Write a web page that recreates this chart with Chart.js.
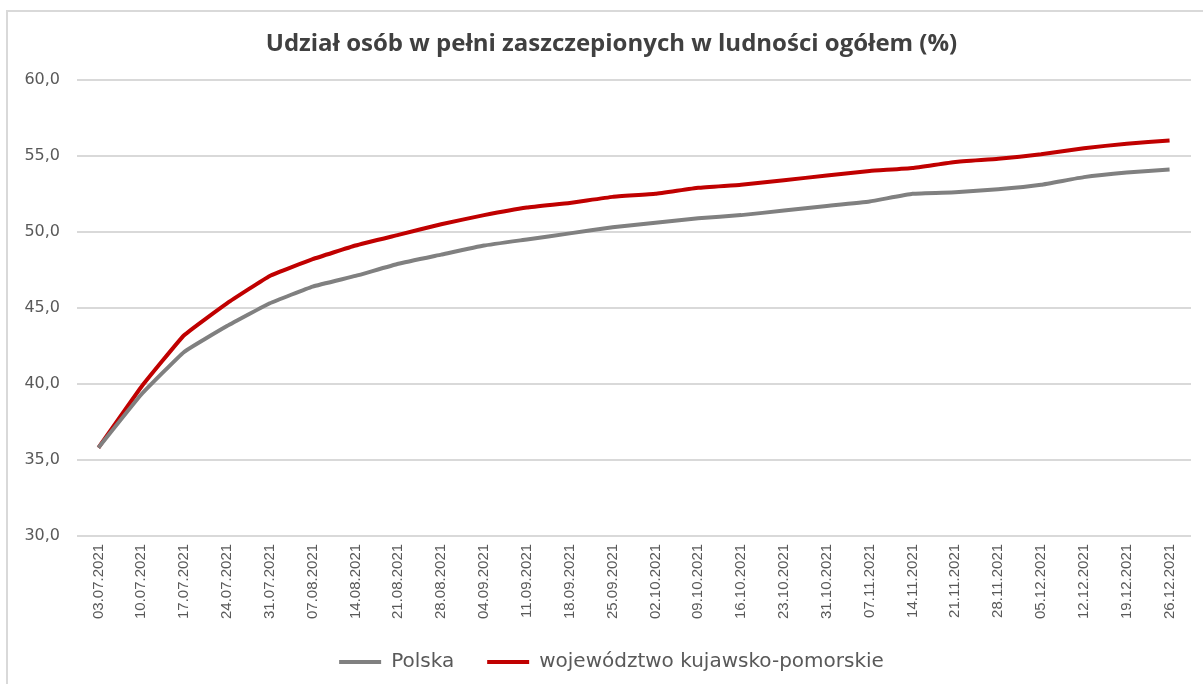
<!DOCTYPE html>
<html lang="pl">
<head>
    <meta charset="UTF-8">
    <title>Udział osób w pełni zaszczepionych</title>
    <script src="https://cdn.jsdelivr.net/npm/chart.js"></script>
    <style>
        html, body { margin: 0; padding: 0; background: #fff; }
        .wrap { position: relative; width: 1203px; height: 684px; }
        .frame { position: absolute; left: 6px; top: 10px; right: 0; bottom: 0; border-top: 2px solid #d9d9d9; border-left: 2px solid #d9d9d9; }
        canvas { position: absolute; left: 0; top: 0; }
    </style>
</head>
<body>
    <div class="wrap">
        <div class="frame"></div>
        <canvas id="chart" width="1203" height="684"></canvas>
    </div>

    <script>
        const dates = ["03.07.2021", "10.07.2021", "17.07.2021", "24.07.2021", "31.07.2021", "07.08.2021",
            "14.08.2021", "21.08.2021", "28.08.2021", "04.09.2021", "11.09.2021", "18.09.2021", "25.09.2021",
            "02.10.2021", "09.10.2021", "16.10.2021", "23.10.2021", "31.10.2021", "07.11.2021", "14.11.2021",
            "21.11.2021", "28.11.2021", "05.12.2021", "12.12.2021", "19.12.2021", "26.12.2021"];

        const polska = [35.8, 39.3, 42.1, 43.8, 45.3, 46.4, 47.1, 47.9, 48.5, 49.1, 49.5, 49.9, 50.3,
            50.6, 50.9, 51.1, 51.4, 51.7, 52.0, 52.5, 52.6, 52.8, 53.1, 53.6, 53.9, 54.1];

        const kujPom = [35.8, 39.8, 43.2, 45.3, 47.1, 48.2, 49.1, 49.8, 50.5, 51.1, 51.6, 51.9, 52.3,
            52.5, 52.9, 53.1, 53.4, 53.7, 54.0, 54.2, 54.6, 54.8, 55.1, 55.5, 55.8, 56.0];

        const yTicks = [30, 35, 40, 45, 50, 55, 60];

        const ctx = document.getElementById('chart').getContext('2d');
        new Chart(ctx, {
            type: 'line',
            data: {
                labels: dates,
                datasets: [
                    { label: 'Polska', data: polska, borderColor: '#808080', backgroundColor: '#808080',
                      borderWidth: 4, pointRadius: 0, tension: 0.1 },
                    { label: 'województwo kujawsko-pomorskie', data: kujPom, borderColor: '#c00000', backgroundColor: '#c00000',
                      borderWidth: 4, pointRadius: 0, tension: 0.1 }
                ]
            },
            options: {
                responsive: false,
                animation: false,
                layout: { padding: { left: 20, right: 0, bottom: 2 } },
                plugins: {
                    title: {
                        display: true,
                        text: 'Udział osób w pełni zaszczepionych w ludności ogółem (%)',
                        color: '#404040',
                        font: { family: 'Open Sans', size: 24, weight: 'bold' },
                        padding: { top: 30, bottom: 21 }
                    },
                    legend: {
                        position: 'bottom',
                        labels: {
                            color: '#595959',
                            font: { family: 'DejaVu Sans', size: 20 },
                            usePointStyle: true,
                            pointStyle: 'line',
                            pointStyleWidth: 42,
                            padding: 33
                        }
                    },
                    tooltip: { enabled: false }
                },
                scales: {
                    x: {
                        offset: true,
                        grid: { display: false },
                        border: { display: false },
                        ticks: {
                            color: '#595959',
                            font: { family: 'Liberation Sans', size: 15 },
                            minRotation: 90, maxRotation: 90,
                            padding: 0,
                            autoSkip: false
                        }
                    },
                    y: {
                        min: 30, max: 60,
                        afterBuildTicks: axis => { axis.ticks = yTicks.map(v => ({ value: v })); },
                        afterFit: axis => { axis.width = 57; },
                        grid: { color: '#d9d9d9', lineWidth: 2, drawTicks: false },
                        border: { display: false },
                        ticks: {
                            color: '#595959',
                            font: { family: 'DejaVu Sans', size: 16 },
                            padding: 17,
                            callback: v => v.toFixed(1).replace('.', ',')
                        }
                    },
                    // empty strip on the right so the plot ends where the original does
                    yRight: {
                        position: 'right',
                        min: 30, max: 60,
                        grid: { display: false },
                        border: { display: false },
                        ticks: { display: false },
                        afterFit: axis => { axis.width = 12; }
                    }
                }
            }
        });
    </script>
</body>
</html>
